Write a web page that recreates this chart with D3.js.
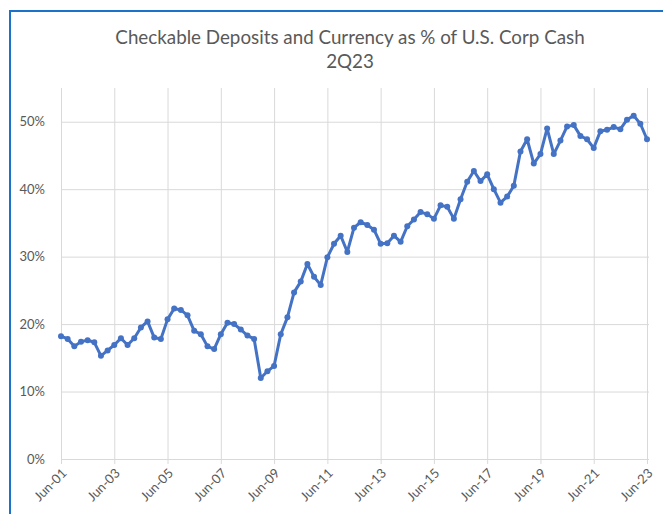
<!DOCTYPE html>
<html lang="en">
<head>
  <meta charset="UTF-8">
  <title>Checkable Deposits and Currency as % of U.S. Corp Cash</title>
  <style>
    html, body { margin: 0; padding: 0; background: #fff; }
    body { font-family: Lato, "Open Sans", sans-serif; }
    .grid line { stroke: #d9d9d9; stroke-width: 1px; }
    .tick text { fill: #595959; }
    .series { fill: none; stroke: #4472c4; stroke-width: 3px; stroke-linejoin: round; }
    .dot { fill: #4472c4; }
  </style>
</head>
<body>
  <svg width="663" height="514"></svg>
  <script src="https://d3js.org/d3.v7.min.js"></script>
  <script>
    // quarterly, Jun-01 .. Jun-23
    const months = ["Mar", "Jun", "Sep", "Dec"];
    const quarters = [];
    for (let yr = 2001; yr <= 2023; yr++) {
      months.forEach((m, k) => {
        if ((yr === 2001 && k < 1) || (yr === 2023 && k > 1)) return;
        quarters.push(m + "-" + String(yr % 100).padStart(2, "0"));
      });
    }

    const share = [
      18.2, 17.8, 16.7, 17.4, 17.6, 17.3, 15.3, 16.1, 16.9, 17.9,
      16.9, 17.9, 19.5, 20.4, 18.0, 17.8, 20.7, 22.3, 22.1, 21.3,
      19.0, 18.5, 16.7, 16.3, 18.5, 20.2, 20.0, 19.2, 18.3, 17.8,
      12.0, 13.0, 13.8, 18.5, 21.0, 24.7, 26.3, 28.9, 27.0, 25.8,
      29.9, 31.9, 33.1, 30.7, 34.3, 35.1, 34.7, 34.0, 31.9, 32.0,
      33.1, 32.2, 34.5, 35.5, 36.6, 36.3, 35.6, 37.6, 37.4, 35.6,
      38.5, 41.1, 42.7, 41.2, 42.2, 40.0, 38.0, 38.9, 40.5, 45.6,
      47.4, 43.8, 45.2, 49.0, 45.2, 47.2, 49.3, 49.5, 47.9, 47.4,
      46.1, 48.6, 48.8, 49.2, 48.9, 50.3, 50.9, 49.7, 47.4
    ];

    const xTickLabels = ["Jun-01", "Jun-03", "Jun-05", "Jun-07", "Jun-09", "Jun-11",
                         "Jun-13", "Jun-15", "Jun-17", "Jun-19", "Jun-21", "Jun-23"];
    const yTicks = [0, 10, 20, 30, 40, 50];

    const titleLines = ["Checkable Deposits and Currency as % of U.S. Corp Cash", "2Q23"];

    const svg = d3.select("svg");
    const plotL = 61, plotR = 647, plotT = 88, plotB = 459;

    // chart frame (cropped on right/bottom)
    svg.append("rect")
      .attr("x", 10).attr("y", 11)
      .attr("width", 700).attr("height", 560)
      .attr("fill", "none").attr("stroke", "#1a73c8").attr("stroke-width", 2);

    const x = d3.scalePoint().domain(quarters).range([plotL, plotR]);
    const y = d3.scaleLinear().domain([0, 55]).range([plotB, plotT]);

    // horizontal gridlines + y labels
    const yAxis = svg.append("g").attr("class", "grid")
      .attr("transform", `translate(${plotL},0)`)
      .call(d3.axisLeft(y).tickValues(yTicks).tickSize(-(plotR - plotL + 2))
        .tickFormat(d => d + "%").tickPadding(16));
    yAxis.select(".domain").remove();
    yAxis.selectAll(".tick text").attr("font-size", 13).attr("font-family", "Lato, sans-serif");

    // vertical gridlines + x labels
    const xAxis = svg.append("g").attr("class", "grid")
      .attr("transform", `translate(0,${plotB})`)
      .call(d3.axisBottom(x).tickValues(xTickLabels).tickSizeInner(-(plotB - plotT)).tickSizeOuter(0).tickPadding(0));
    xAxis.select(".domain").remove();
    xAxis.selectAll(".tick")
      .append("line").attr("y1", 0).attr("y2", 5);
    xAxis.selectAll(".tick text")
      .attr("font-size", 13)
      .attr("font-family", "Lato, sans-serif")
      .attr("text-anchor", "end")
      .attr("dy", null)
      .attr("transform", "translate(6,15) rotate(-45)");

    // title
    svg.append("g").selectAll("text").data(titleLines).join("text")
      .attr("x", 350).attr("y", (d, i) => 44 + i * 24)
      .attr("text-anchor", "middle")
      .attr("font-size", 18.8)
      .attr("fill", "#595959")
      .text(d => d);

    const pts = share.map((v, i) => [x(quarters[i]), y(v)]);

    svg.append("path").attr("class", "series")
      .attr("d", d3.line()(pts));

    svg.append("g").selectAll("circle").data(pts).join("circle")
      .attr("class", "dot")
      .attr("cx", d => d[0]).attr("cy", d => d[1]).attr("r", 3);
  </script>
</body>
</html>
